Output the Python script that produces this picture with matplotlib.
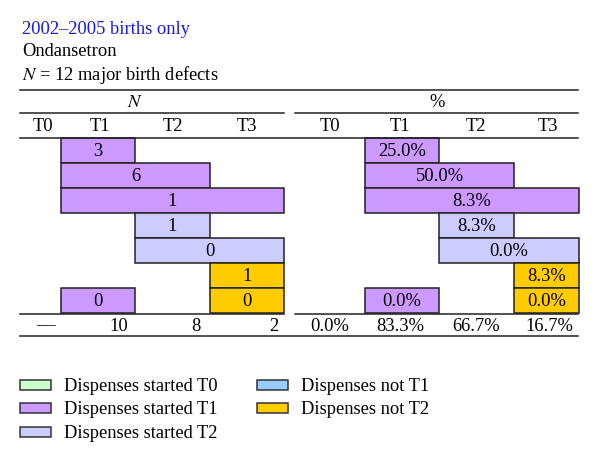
import matplotlib.pyplot as plt

# data
periods = ['T0', 'T1', 'T2', 'T3']
n_total = 12
# each bar: row, first period, last period, group, count
bar_rows = [0, 1, 2, 3, 4, 5, 6, 6]
bar_first = ['T1', 'T1', 'T1', 'T2', 'T2', 'T3', 'T1', 'T3']
bar_last = ['T1', 'T2', 'T3', 'T2', 'T3', 'T3', 'T1', 'T3']
bar_group = ['T1', 'T1', 'T1', 'T2', 'T2', 'not2', 'T1', 'not2']
bar_count = [3, 6, 1, 1, 0, 1, 0, 0]
total_n = [None, 10, 8, 2]

legend_keys = ['T0', 'T1', 'T2', 'not1', 'not2']
legend_labels = ['Dispenses started T0', 'Dispenses started T1', 'Dispenses started T2',
                 'Dispenses not T1', 'Dispenses not T2']
colors = {'T0': '#CCFFCC', 'T1': '#CC99FF', 'T2': '#CCCCFF', 'not1': '#99CCFF', 'not2': '#FFCC00'}

# layout (pixels)
W, H = 600, 465
left_edges = [20, 61, 135, 210, 284]
right_edges = [295, 365, 439, 514, 579]
row_top = 138
row_h = 25
line_y = [90, 113, 138, 314, 336]

plt.rcParams['font.family'] = ['Liberation Serif', 'DejaVu Serif']
plt.rcParams['mathtext.fontset'] = 'stix'
fs = 13.3

fig = plt.figure(figsize=(6, 4.65), dpi=100)
ax = fig.add_axes([0, 0, 1, 1])
ax.set_xlim(0, W)
ax.set_ylim(H, 0)
ax.axis('off')

# title block
ax.text(22, 30, '2002\u20132005 births only', color='#1a1adc', fontsize=fs, va='center')
ax.text(22, 52, 'Ondansetron', color='black', fontsize=fs, va='center')
ax.text(22, 75, '$N$ = 12 major birth defects', color='black', fontsize=fs, va='center')

# rules
lc = '#222222'
ax.plot([20, 578], [line_y[0]] * 2, color=lc, lw=1.1)
ax.plot([20, 284], [line_y[1]] * 2, color=lc, lw=1.1)
ax.plot([295, 578], [line_y[1]] * 2, color=lc, lw=1.1)
ax.plot([20, 578], [line_y[2]] * 2, color=lc, lw=1.1)
ax.plot([20, 284], [line_y[3]] * 2, color=lc, lw=1.1)
ax.plot([295, 578], [line_y[3]] * 2, color=lc, lw=1.1)
ax.plot([20, 578], [line_y[4]] * 2, color=lc, lw=1.1)

ax.text(135, 102, '$N$', fontsize=fs, ha='center', va='center')
ax.text(437, 102, '%', fontsize=fs, ha='center', va='center')

for edges, hdr_x in [(left_edges, [43, 100, 173, 247]), (right_edges, [330, 400, 476, 548])]:
    for i, p in enumerate(periods):
        ax.text(hdr_x[i], 126, p, fontsize=fs, ha='center', va='center')

# bars
for r, a, b, g, c in zip(bar_rows, bar_first, bar_last, bar_group, bar_count):
    i0 = periods.index(a)
    i1 = periods.index(b) + 1
    yc = row_top + row_h * (r + 0.5)
    for edges, label in [(left_edges, str(c)), (right_edges, f'{100 * c / n_total:.1f}%')]:
        x0, x1 = edges[i0], edges[i1]
        ax.barh(yc, x1 - x0, left=x0, height=row_h, color=colors[g],
                edgecolor='#222222', linewidth=1.1)
        ax.text((x0 + x1) / 2, yc + 1, label, fontsize=fs, ha='center', va='center')

# totals
tot_y = 326
left_tot_x = [45, 128, 201, 278]
right_tot_x = [330, 400, 476, 549]
for i, t in enumerate(total_n):
    if t is None:
        ax.text(left_tot_x[i], tot_y, '\u2014', fontsize=fs, ha='center', va='center')
        pct = 0.0
    else:
        ax.text(left_tot_x[i], tot_y, str(t), fontsize=fs, ha='right', va='center')
        pct = 100 * t / n_total
    ax.text(right_tot_x[i], tot_y, f'{pct:.1f}%', fontsize=fs, ha='center', va='center')

# legend
leg_x = [20, 20, 20, 257, 257]
leg_y = [385, 408, 432, 385, 408]
for k, lab, x, y in zip(legend_keys, legend_labels, leg_x, leg_y):
    ax.barh(y, 31, left=x, height=10, color=colors[k], edgecolor='#333333', linewidth=1.1)
    ax.text(x + 44, y + 1, lab, fontsize=fs, ha='left', va='center')

fig.savefig('out.png', dpi=100)
